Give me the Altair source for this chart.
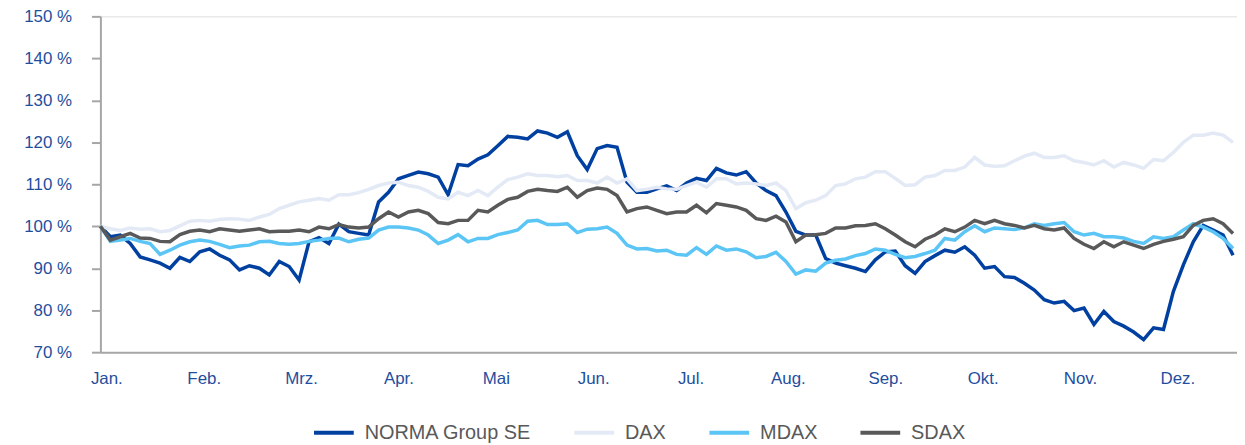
import altair as alt
import pandas as pd

# Kursentwicklung (indexiert, Start = 100 %), ein Wert je Stützstelle
series_names = ["NORMA Group SE", "DAX", "MDAX", "SDAX"]
series_colors = ["#0040A0", "#E3EAF6", "#5BC5F5", "#595959"]

month_labels = ["Jan.", "Feb.", "Mrz.", "Apr.", "Mai", "Jun.",
                "Jul.", "Aug.", "Sep.", "Okt.", "Nov.", "Dez."]
month_ticks = [0.6, 10.4, 20.2, 30.0, 39.8, 49.6, 59.4, 69.2, 79.0, 88.8, 98.6, 108.4]

y_ticks = [70, 80, 90, 100, 110, 120, 130, 140, 150]

norma = [
    100, 97.5, 97.9, 95.9, 92.7, 92.0, 91.2, 90.0, 92.6, 91.6,
    93.9, 94.6, 93.1, 92.0, 89.6, 90.6, 90.0, 88.4, 91.6, 90.4,
    87.2, 96.3, 97.3, 95.9, 100.5, 98.7, 98.3, 97.9, 105.8,
    108.1, 111.3, 112.1, 112.9, 112.5, 111.7, 107.5, 114.7, 114.4, 116.0, 117.0,
    119.2, 121.4, 121.2, 120.8, 122.7, 122.2, 121.2, 122.5, 116.8, 113.5,
    118.5, 119.2, 118.8, 110.5, 108.1, 108.1, 108.9,
    109.6, 108.5, 110.3, 111.4, 110.9, 113.8, 112.7, 112.2, 113.0, 110.3,
    108.5, 107.3, 103.4, 98.8, 97.9, 97.9, 92.3, 91.2, 90.6, 90.0,
    89.2, 92.0, 93.9, 94.1, 90.6, 88.8, 91.6, 93.0, 94.3,
    93.8, 95.1, 93.1, 90.0, 90.4, 88.0, 87.8, 86.4, 84.8, 82.5,
    81.7, 82.1, 79.9, 80.5, 76.6, 79.7, 77.3, 76.2, 74.8, 73.0,
    75.8, 75.4, 84.5, 90.8, 96.3, 100.2, 99.1, 97.9, 93.1,
]

dax = [
    100, 99.4, 99.0, 99.6, 99.3, 99.4, 98.7, 99.0, 100.1, 101.2,
    101.4, 101.2, 101.6, 101.8, 101.7, 101.4, 102.2, 102.8, 104.2, 105.0,
    105.8, 106.2, 106.6, 106.2, 107.5, 107.5, 108.0, 108.8, 109.7,
    110.3, 110.5, 109.7, 109.3, 108.3, 106.9, 106.5, 108.1, 107.3, 108.5, 107.3,
    109.3, 111.1, 111.7, 112.5, 112.1, 112.1, 111.8, 112.1, 110.9, 110.9,
    110.3, 111.7, 110.3, 111.3, 108.5, 108.8, 109.3,
    108.9, 108.8, 109.7, 110.5, 109.3, 111.3, 111.3, 110.1, 110.3, 110.1,
    109.7, 110.3, 108.5, 104.2, 105.6, 106.2, 107.3, 109.7, 110.1, 111.3,
    111.7, 113.0, 113.0, 111.4, 109.7, 109.9, 111.7, 112.1, 113.3,
    113.3, 114.1, 116.4, 114.6, 114.3, 114.4, 115.6, 116.7, 117.4, 116.4,
    116.4, 116.8, 115.6, 115.2, 114.6, 115.6, 114.1, 115.2, 114.6, 113.8,
    115.9, 115.6, 117.6, 120.0, 121.7, 121.7, 122.2, 121.7, 120.0,
]

mdax = [
    100, 96.4, 96.7, 97.1, 96.4, 95.9, 93.3, 94.3, 95.5, 96.3,
    96.7, 96.4, 95.7, 94.9, 95.3, 95.5, 96.3, 96.4, 95.9, 95.7,
    95.9, 96.4, 96.7, 97.1, 97.2, 96.3, 96.9, 97.2, 99.1,
    99.8, 99.8, 99.6, 99.1, 97.9, 95.9, 96.7, 98.0, 96.3, 97.1, 97.1,
    98.0, 98.5, 99.1, 101.2, 101.4, 100.4, 100.4, 100.6, 98.5, 99.3,
    99.4, 99.8, 98.3, 95.5, 94.6, 94.7, 94.1,
    94.3, 93.3, 93.1, 94.9, 93.3, 95.3, 94.3, 94.6, 93.9, 92.5,
    92.8, 93.8, 91.6, 88.6, 89.6, 89.3, 91.2, 91.9, 92.2, 93.0,
    93.5, 94.6, 94.3, 93.3, 92.5, 92.8, 93.5, 94.3, 97.1,
    96.7, 98.7, 100.1, 98.7, 99.6, 99.4, 99.2, 99.6, 100.6, 100.2,
    100.6, 100.9, 98.7, 97.9, 98.3, 97.5, 97.5, 97.2, 96.4, 95.9,
    97.5, 97.1, 97.5, 99.1, 100.6, 99.8, 98.7, 97.1, 94.7,
]

sdax = [
    100, 96.7, 97.5, 98.3, 97.2, 97.1, 96.4, 96.3, 98.0, 98.8,
    99.1, 98.7, 99.4, 99.1, 98.8, 99.1, 99.4, 98.7, 98.8, 98.8,
    99.1, 98.7, 99.8, 99.4, 100.4, 99.8, 99.6, 99.8, 101.8,
    103.4, 102.2, 103.4, 103.8, 103.0, 100.9, 100.6, 101.4, 101.4, 103.8, 103.4,
    105.0, 106.4, 106.9, 108.3, 108.8, 108.5, 108.3, 109.3, 106.9, 108.5,
    109.1, 108.8, 107.3, 103.4, 104.2, 104.6, 103.8,
    103.0, 103.4, 103.4, 105.0, 103.2, 105.4, 105.0, 104.6, 103.8, 101.8,
    101.4, 102.4, 101.0, 96.3, 97.9, 98.0, 98.3, 99.6, 99.6, 100.1,
    100.2, 100.6, 99.4, 97.9, 96.3, 95.1, 96.9, 97.9, 99.4,
    98.7, 99.8, 101.4, 100.6, 101.4, 100.6, 100.2, 99.6, 100.2, 99.4,
    99.1, 99.6, 97.1, 95.7, 94.7, 96.3, 95.1, 96.3, 95.5, 94.7,
    95.7, 96.4, 96.9, 97.5, 100.2, 101.4, 101.8, 100.6, 98.3,
]

rows = []
for name, vals in zip(series_names, [norma, dax, mdax, sdax]):
    for i, v in enumerate(vals):
        rows.append({"t": i, "wert": v, "serie": name})
df = pd.DataFrame(rows)

FONT = "Liberation Sans, Arial, sans-serif"
BLUE_TXT = "#1F4E9E"
AXIS_GREY = "#A6A6A6"

labels_js = "[" + ",".join("'%s'" % m for m in month_labels) + "]"

base = alt.Chart(df).mark_line(strokeWidth=3.5, strokeJoin="miter").encode(
    x=alt.X("t:Q",
            scale=alt.Scale(domain=[0, 114.4], nice=False, zero=False),
            axis=alt.Axis(title=None, values=month_ticks, ticks=False, tickSize=0,
                          grid=False, labelExpr=labels_js + "[round((datum.value-0.6)/9.8)]",
                          labelFont=FONT, labelFontSize=17, labelColor=BLUE_TXT,
                          labelPadding=19, domainColor=AXIS_GREY, domainWidth=2,
                          labelFlush=False, labelOverlap=False)),
    y=alt.Y("wert:Q",
            scale=alt.Scale(domain=[70, 150], nice=False, zero=False),
            axis=alt.Axis(title=None, values=y_ticks, grid=False,
                          labelExpr="datum.value + ' %'",
                          labelFont=FONT, labelFontSize=17, labelColor=BLUE_TXT,
                          labelPadding=20, tickSize=9, tickColor=AXIS_GREY, tickWidth=2,
                          domainColor=AXIS_GREY, domainWidth=2)),
    color=alt.Color("serie:N",
                    scale=alt.Scale(domain=series_names, range=series_colors),
                    legend=alt.Legend(title=None, orient="none", direction="horizontal",
                                      legendX=213, legendY=397,
                                      symbolType="stroke", symbolSize=1600,
                                      symbolStrokeWidth=4, labelFont=FONT,
                                      labelFontSize=20, labelColor="#595959",
                                      labelOffset=9, columnPadding=35,
                                      labelLimit=300)),
)

layers = [base.transform_filter(alt.datum.serie == n) for n in series_names]

chart = alt.layer(*layers).properties(
    width=1144,
    height=338,
    padding={"left": 93, "top": 7, "right": 0, "bottom": 92},
    autosize=alt.AutoSizeParams(type="none"),
).configure_view(stroke=None).configure(background="white")

chart.save("out.html", embed_options={"renderer": "svg", "actions": False})
